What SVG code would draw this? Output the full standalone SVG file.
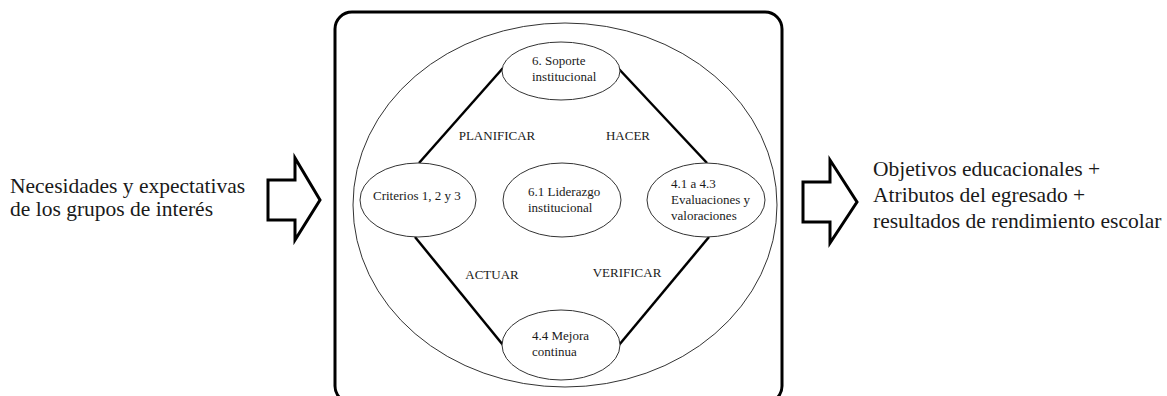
<svg xmlns="http://www.w3.org/2000/svg" width="1167" height="396" viewBox="0 0 1167 396" font-family="Liberation Serif, serif">
<style>
.t{fill:#1a1a1a}
.big{font-size:21.5px}
.sm{font-size:13px}
.node ellipse{fill:#fff;stroke:#333;stroke-width:1}
.conn line{stroke:#000;stroke-width:2.5}
.arrow{fill:#fff;stroke:#000;stroke-width:3;stroke-linejoin:miter}
</style>
<rect width="1167" height="396" fill="#fff"/>
<g id="frame">
<rect x="335" y="12" width="447" height="391" rx="17" fill="#fff" stroke="#000" stroke-width="3"/>
<ellipse cx="565" cy="205" rx="212" ry="182" fill="none" stroke="#333" stroke-width="1"/>
</g>
<g id="input" font-family="Liberation Serif, serif">
<polygon class="arrow" points="268,180 295,180 295,158 320,200 295,240 295,220 268,220"/>
<text class="t big" x="10" y="193">Necesidades y expectativas</text>
<text class="t big" x="10" y="216">de los grupos de interés</text>
</g>
<g id="output" font-family="Liberation Serif, serif">
<polygon class="arrow" points="803,182 830,182 830,160 857,202 830,243 830,222 803,222"/>
<text class="t big" x="873" y="176">Objetivos educacionales +</text>
<text class="t big" x="873" y="202">Atributos del egresado +</text>
<text class="t big" x="873" y="228">resultados de rendimiento escolar</text>
</g>
<g class="conn" id="connectors">
<line x1="503" y1="68" x2="419" y2="163"/>
<line x1="618" y1="68" x2="707" y2="163"/>
<line x1="415" y1="237" x2="503" y2="345"/>
<line x1="709" y1="237" x2="619" y2="345"/>
</g>
<g id="labels" font-family="Liberation Serif, serif">
<text class="t sm" x="497" y="140" text-anchor="middle">PLANIFICAR</text>
<text class="t sm" x="628" y="140" text-anchor="middle">HACER</text>
<text class="t sm" x="492" y="279" text-anchor="middle">ACTUAR</text>
<text class="t sm" x="627" y="277" text-anchor="middle">VERIFICAR</text>
</g>
<g class="node" id="soporte" font-family="Liberation Serif, serif">
<ellipse cx="561" cy="71" rx="59" ry="29"/>
<text class="t sm" x="532" y="65">6. Soporte</text>
<text class="t sm" x="532" y="81">institucional</text>
</g>
<g class="node" id="criterios" font-family="Liberation Serif, serif">
<ellipse cx="418" cy="200" rx="58" ry="37"/>
<text class="t sm" x="373" y="200">Criterios 1, 2 y 3</text>
</g>
<g class="node" id="liderazgo" font-family="Liberation Serif, serif">
<ellipse cx="562" cy="200" rx="59" ry="37"/>
<text class="t sm" x="528" y="196">6.1 Liderazgo</text>
<text class="t sm" x="528" y="212">institucional</text>
</g>
<g class="node" id="evaluaciones" font-family="Liberation Serif, serif">
<ellipse cx="706" cy="200" rx="59" ry="37"/>
<text class="t sm" x="671" y="188">4.1 a 4.3</text>
<text class="t sm" x="671" y="204">Evaluaciones y</text>
<text class="t sm" x="671" y="220">valoraciones</text>
</g>
<g class="node" id="mejora" font-family="Liberation Serif, serif">
<ellipse cx="561" cy="345" rx="59" ry="35"/>
<text class="t sm" x="532" y="340">4.4 Mejora</text>
<text class="t sm" x="532" y="356">continua</text>
</g>
</svg>
